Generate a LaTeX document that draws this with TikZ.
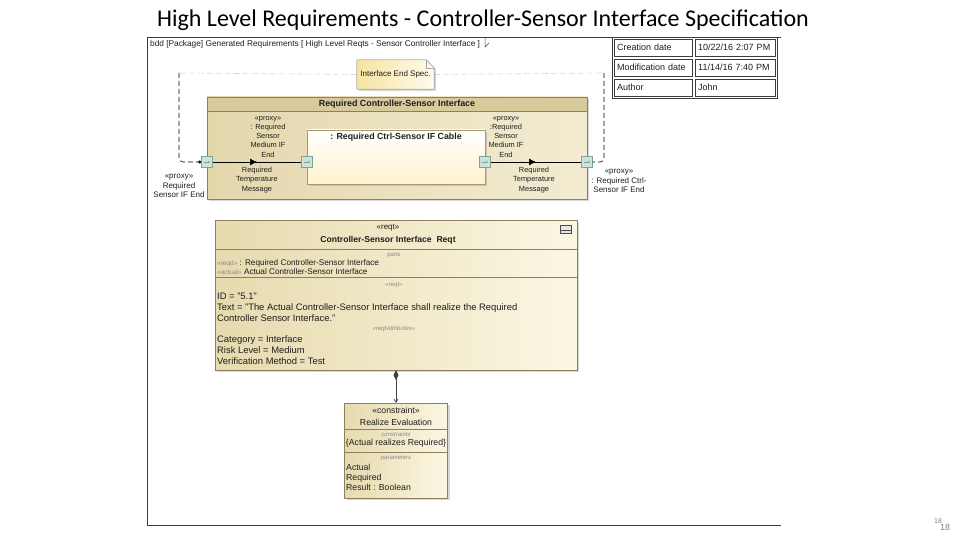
\documentclass[tikz,border=0pt]{standalone}
\usepackage{fontspec}
\setmainfont{Liberation Sans}
\newfontfamily\titlefont{Carlito}
\usetikzlibrary{arrows.meta,shadows,calc,decorations.markings}
\definecolor{framec}{HTML}{3C3C3C}
\definecolor{bandc}{HTML}{D8CA9D}
\definecolor{bodyA}{HTML}{E3D7AC}
\definecolor{bodyB}{HTML}{F3ECD2}
\definecolor{edgec}{HTML}{8E805C}
\definecolor{cableA}{HTML}{FFF2CC}
\definecolor{reqA}{HTML}{E6DAAE}
\definecolor{reqB}{HTML}{FBF7E3}
\definecolor{noteA}{HTML}{F6E4A0}
\definecolor{noteB}{HTML}{FFFBEC}
\definecolor{portf}{HTML}{CFE2DA}
\definecolor{portd}{HTML}{7BA595}
\definecolor{txtc}{HTML}{1E1E1E}
\definecolor{mutec}{HTML}{8A8A8A}
\begin{document}
\begin{tikzpicture}[x=1pt,y=-1pt,
  txt/.style={inner sep=0pt, text=txtc},
  lbl/.style={txt, align=center, font=\fontsize{7.4}{9.3}\selectfont},
  olbl/.style={txt, align=center, font=\fontsize{8}{9.5}\selectfont},
  small/.style={txt, font=\fontsize{6}{7}\selectfont\itshape, text=mutec},
  body/.style={txt, anchor=base west, font=\fontsize{9.4}{11}\selectfont},
  parttxt/.style={txt, anchor=base west, font=\fontsize{8.2}{9}\selectfont},
  contxt/.style={txt, font=\fontsize{8.7}{10}\selectfont},
  shad/.style={drop shadow={shadow xshift=2pt,shadow yshift=-2pt,opacity=0.3}},
  port/.style={draw=portd, fill=portf, minimum size=11pt, inner sep=0pt},
  cell/.style={draw=framec, anchor=west, minimum height=17pt, inner sep=3pt, align=left, text=txtc, font=\fontsize{9}{10}\selectfont},
  flow/.style={draw=black, line width=0.7pt, postaction={decorate},
    decoration={markings, mark=at position 0.5 with {\arrow{Latex[length=7pt,width=7pt]}}}},
  anchorline/.style={draw=black, line width=0.6pt, dash pattern=on 5pt off 3pt}
]
\useasboundingbox (0,0) rectangle (960,540);
\fill[white] (0,0) rectangle (960,540);

% title
\node[inner sep=0pt, font=\titlefont\fontsize{24}{28}\selectfont] (title) at (483,20) {High Level Requirements - Controller-Sensor Interface Specification};

% diagram frame
\draw[framec, line width=0.8pt] (781,37) -- (147,37) -- (147,525) -- (781,525);
\node[txt, anchor=west, font=\fontsize{8.3}{9}\selectfont] (hdr) at (150,44.5) {bdd [Package] Generated Requirements [ High Level Reqts - Sensor Controller Interface ]};
\draw[framec, line width=0.5pt] (485,38) -- (485,47) -- (489,43);

% info table
\draw[framec, line width=0.6pt] (612,37) rectangle (777,98);
\node[cell, text width=72pt] (c11) at (614,47.5) {Creation date};
\node[cell, text width=74pt] (c12) at (695,47.5) {10/22/16 2:07 PM};
\node[cell, text width=72pt] (c21) at (614,67.5) {Modification date};
\node[cell, text width=74pt] (c22) at (695,67.5) {11/14/16 7:40 PM};
\node[cell, text width=72pt] (c31) at (614,87.5) {Author};
\node[cell, text width=74pt] (c32) at (695,87.5) {John};

% note and its anchor lines
\node[minimum width=77pt, minimum height=29pt, inner sep=0pt] (note) at (395.5,74.5) {};
\coordinate (aL) at (179,73);
\coordinate (aR) at (604,73);
\draw[gray!30, line width=0.6pt, dash pattern=on 6pt off 3pt] (note.west) -- (aL);
\draw[gray!30, line width=0.6pt, dash pattern=on 6pt off 3pt] (note.east) -- (aR);
\fill[left color=noteA, right color=noteB, shad] (note.south west) -- (note.north west) -- ($(note.north east)+(-8,0)$) -- ($(note.north east)+(0,8)$) -- (note.south east) -- cycle;
\draw[gray!70, line width=0.5pt] (note.south west) -- (note.north west) -- ($(note.north east)+(-8,0)$) -- ($(note.north east)+(0,8)$) -- (note.south east) -- cycle;
\draw[gray!70, line width=0.5pt] ($(note.north east)+(-8,0)$) -- ($(note.north east)+(-8,8)$) -- ($(note.north east)+(0,8)$);
\node[txt, font=\fontsize{8}{9}\selectfont] (notetxt) at (note) {Interface End Spec.};

% block Required Controller-Sensor Interface
\node[draw=edgec, left color=bodyA, right color=bodyB, minimum width=380pt, minimum height=102pt, inner sep=0pt, shad] (blk) at (397,148) {};
\node[draw=edgec, fill=bandc, minimum width=380pt, minimum height=14pt, inner sep=0pt, anchor=north] (blkhdr) at (blk.north) {};
\node[txt, font=\fontsize{8.9}{9}\selectfont\bfseries] (blktxt) at (blkhdr) {Required Controller-Sensor Interface};

% cable part
\node[draw=edgec!80, top color=white, bottom color=cableA, minimum width=178pt, minimum height=54pt, inner sep=0pt, shad] (cable) at (396,157) {};
\node[txt, font=\fontsize{8.8}{9}\selectfont\bfseries] (cabletxt) at (396,137) {: Required Ctrl-Sensor IF Cable};

% ports
\node[port] (lport) at (207,162) {};
\node[port] (cLport) at (307,162) {};
\node[port] (cRport) at (485,162) {};
\node[port] (rport) at (587,162) {};
\foreach \p in {lport,cLport,cRport,rport}{
  \draw[portd, line width=0.4pt, -{Stealth[length=2pt,width=2pt]}] ([xshift=-3pt]\p.center) -- ([xshift=3pt]\p.center);
}

% item flows
\draw[flow] (lport.east) -- (cLport.west);
\draw[flow] (cRport.east) -- (rport.west);

% note anchors
\draw[anchorline, rounded corners=4pt, -{Circle[length=3pt]}] (aL) -- (aL |- lport) -- (lport.west);
\draw[anchorline, rounded corners=4pt] (aR) -- (aR |- rport) -- (rport.east);

% port and flow labels
\node[lbl, anchor=south] (lpl) at (268,157.5) {«proxy»\\: Required\\Sensor\\Medium IF\\End};
\node[lbl, anchor=south] (rpl) at (506,157.5) {«proxy»\\:Required\\Sensor\\Medium IF\\End};
\node[lbl, anchor=north] (lfl) at (257,167) {Required\\Temperature\\Message};
\node[lbl, anchor=north] (rfl) at (534,167) {Required\\Temperature\\Message};
\node[olbl, anchor=north] (lol) at (179,174) {«proxy»\\Required\\Sensor IF End};
\node[olbl, anchor=north] (rol) at (619,169) {«proxy»\\: Required Ctrl-\\Sensor IF End};

% requirement block
\node[draw=edgec, left color=reqA, right color=reqB, minimum width=362pt, minimum height=150pt, inner sep=0pt, shad] (req) at (396,295) {};
\draw[edgec] ($(req.north west)+(0,29)$) -- ($(req.north east)+(0,29)$);
\draw[edgec] ($(req.north west)+(0,57)$) -- ($(req.north east)+(0,57)$);
\node[draw=gray!60!black, fill=gray!20, minimum width=11pt, minimum height=8pt, inner sep=0pt] (icon) at (566,229) {};
\draw[gray!60!black, line width=0.5pt] ($(icon.west)+(0,1.5)$) -- ($(icon.east)+(0,1.5)$);
\node[txt, font=\fontsize{8}{9}\selectfont] (reqst) at (388,228) {«reqt»};
\node[txt, font=\fontsize{8.6}{9}\selectfont\bfseries] (reqname) at (388,240) {Controller-Sensor Interface\ \ Reqt};
\node[small] (partslbl) at (394,255) {parts};
\node[parttxt] (p1) at (217,265.5) {{\fontsize{6.5}{7}\selectfont\color{mutec}«reqd»} : Required Controller-Sensor Interface};
\node[parttxt] (p2) at (217,274) {{\fontsize{6.5}{7}\selectfont\color{mutec}«actual»} Actual Controller-Sensor Interface};
\node[small] (reqtlbl) at (394,285) {«reqt»};
\node[body] (id) at (217,299.5) {ID = "5.1"};
\node[body] (t1) at (217,310.5) {Text = "The Actual Controller-Sensor Interface shall realize the Required};
\node[body] (t2) at (217,321.5) {Controller Sensor Interface."};
\node[small] (attrlbl) at (394,328.5) {«reqtAttributes»};
\node[body] (a1) at (217,342) {Category = Interface};
\node[body] (a2) at (217,353) {Risk Level = Medium};
\node[body] (a3) at (217,364) {Verification Method = Test};

% constraint block
\node[draw=edgec, left color=reqA, right color=reqB, minimum width=103pt, minimum height=95pt, inner sep=0pt, shad] (con) at (396,450.5) {};
\draw[edgec] ($(con.north west)+(0,26.5)$) -- ($(con.north east)+(0,26.5)$);
\draw[edgec] ($(con.north west)+(0,49)$) -- ($(con.north east)+(0,49)$);
\node[contxt] (const) at (396,410.5) {«constraint»};
\node[contxt] (conname) at (396,422) {Realize Evaluation};
\node[small] (conlbl) at (396,434.5) {constraints};
\node[contxt] (conexpr) at (396,443.5) {\{Actual realizes Required\}};
\node[small] (parlbl) at (396,458.5) {parameters};
\node[contxt, anchor=base west] (par1) at (346,470.5) {Actual};
\node[contxt, anchor=base west] (par2) at (346,480.5) {Required};
\node[contxt, anchor=base west] (par3) at (346,490.5) {Result : Boolean};

% composition
\draw[black!75, line width=0.7pt, {Diamond[length=10pt,width=5pt]}-{Straight Barb[length=3pt,width=4pt]}] (req.south) -- (con.north);

% page number
\node[inner sep=0pt, text=gray, font=\fontsize{7}{8}\selectfont] (pg1) at (938,521) {18};
\node[inner sep=0pt, text=gray, font=\fontsize{9}{10}\selectfont] (pg2) at (945,527) {18};
\end{tikzpicture}
\end{document}
